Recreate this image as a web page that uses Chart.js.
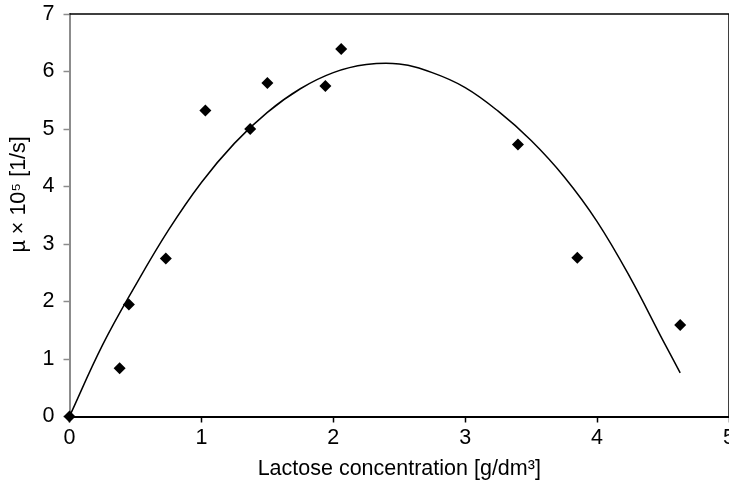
<!DOCTYPE html>
<html><head><meta charset="utf-8">
<script src="https://cdn.jsdelivr.net/npm/chart.js@4"></script>
<style>
html,body{margin:0;padding:0;background:#fff;overflow:hidden;}
#wrap{width:729px;height:485px;overflow:hidden;position:relative;}
#box{position:absolute;left:0;top:0;width:735px;height:485px;}
</style></head><body>
<div id="wrap"><div id="box"><canvas id="c"></canvas></div></div>
<script>
// Measured points
const obsX = [0, 0.38, 0.45, 0.73, 1.03, 1.37, 1.50, 1.94, 2.06, 3.40, 3.85, 4.63];
const obsY = [0, 0.84, 1.95, 2.75, 5.32, 5.00, 5.80, 5.75, 6.39, 4.73, 2.76, 1.59];
// Fitted trend curve
const fitX = [0, 0.25, 0.5, 0.75, 1.0, 1.25, 1.5, 1.75, 2.0, 2.25, 2.5, 2.75, 3.0, 3.25, 3.5, 3.75, 4.0, 4.25, 4.5, 4.63];
const fitY = [0, 1.24, 2.28, 3.24, 4.07, 4.75, 5.29, 5.70, 5.98, 6.12, 6.13, 5.98, 5.72, 5.31, 4.80, 4.17, 3.39, 2.42, 1.32, 0.76];
const xTicks = [0, 1, 2, 3, 4, 5];
const yTicks = [0, 1, 2, 3, 4, 5, 6, 7];
const xTitle = 'Lactose concentration [g/dm³]';
const yTitle = '       µ × 10⁵ [1/s]';

const FONT = 'Liberation Sans, Arial, sans-serif';
const FS = 21.5;
const frame = {
  id: 'frame',
  beforeDatasetsDraw(chart) {
    const a = chart.chartArea, ctx = chart.ctx;
    ctx.save();
    ctx.strokeStyle = '#000';
    ctx.lineWidth = 1.5;
    ctx.beginPath();
    ctx.moveTo(a.left, a.top);
    ctx.lineTo(a.right, a.top);
    ctx.lineTo(a.right, a.bottom);
    ctx.stroke();
    ctx.restore();
  }
};

new Chart(document.getElementById('c'), {
  type: 'scatter',
  data: {
    datasets: [
      {
        data: fitX.map((x, i) => ({x, y: fitY[i]})),
        showLine: true, borderColor: '#000', borderWidth: 1.5,
        pointRadius: 0, tension: 0.4, fill: false
      },
      {
        data: obsX.map((x, i) => ({x, y: obsY[i]})),
        pointStyle: 'rectRot', pointRadius: 6, pointBorderWidth: 0,
        backgroundColor: '#000', borderColor: '#000', clip: false
      }
    ]
  },
  options: {
    responsive: true, maintainAspectRatio: false, animation: false, devicePixelRatio: 1,
    layout: {padding: 0},
    plugins: {legend: {display: false}, tooltip: {enabled: false}},
    scales: {
      x: {
        type: 'linear', min: 0, max: 5,
        afterBuildTicks: s => { s.ticks = xTicks.map(v => ({value: v})); },
        afterFit: s => { s.height = 68.5; s.paddingLeft = 0; s.paddingRight = 1.5; },
        ticks: {color: '#000', font: {family: FONT, size: FS}, padding: 3},
        grid: {drawOnChartArea: false, drawTicks: true, tickLength: 6, tickColor: '#000', tickWidth: 1.5},
        border: {color: '#000', width: 2},
        title: {display: true, text: xTitle, color: '#000', font: {family: FONT, size: FS}, padding: {top: 2, bottom: 3}}
      },
      y: {
        type: 'linear', min: 0, max: 7,
        afterBuildTicks: s => { s.ticks = yTicks.map(v => ({value: v})); },
        afterFit: s => { s.width = 69.5; s.paddingTop = 14; s.paddingBottom = 0; },
        ticks: {color: '#000', font: {family: FONT, size: FS}, padding: 9},
        grid: {drawOnChartArea: false, drawTicks: true, tickLength: 6, tickColor: '#8c8c8c', tickWidth: 1.5},
        border: {color: '#8c8c8c', width: 2},
        title: {display: true, text: yTitle, color: '#000', font: {family: FONT, size: FS}, padding: {top: 6, bottom: 0}}
      }
    }
  },
  plugins: [frame]
});
</script>
</body></html>
